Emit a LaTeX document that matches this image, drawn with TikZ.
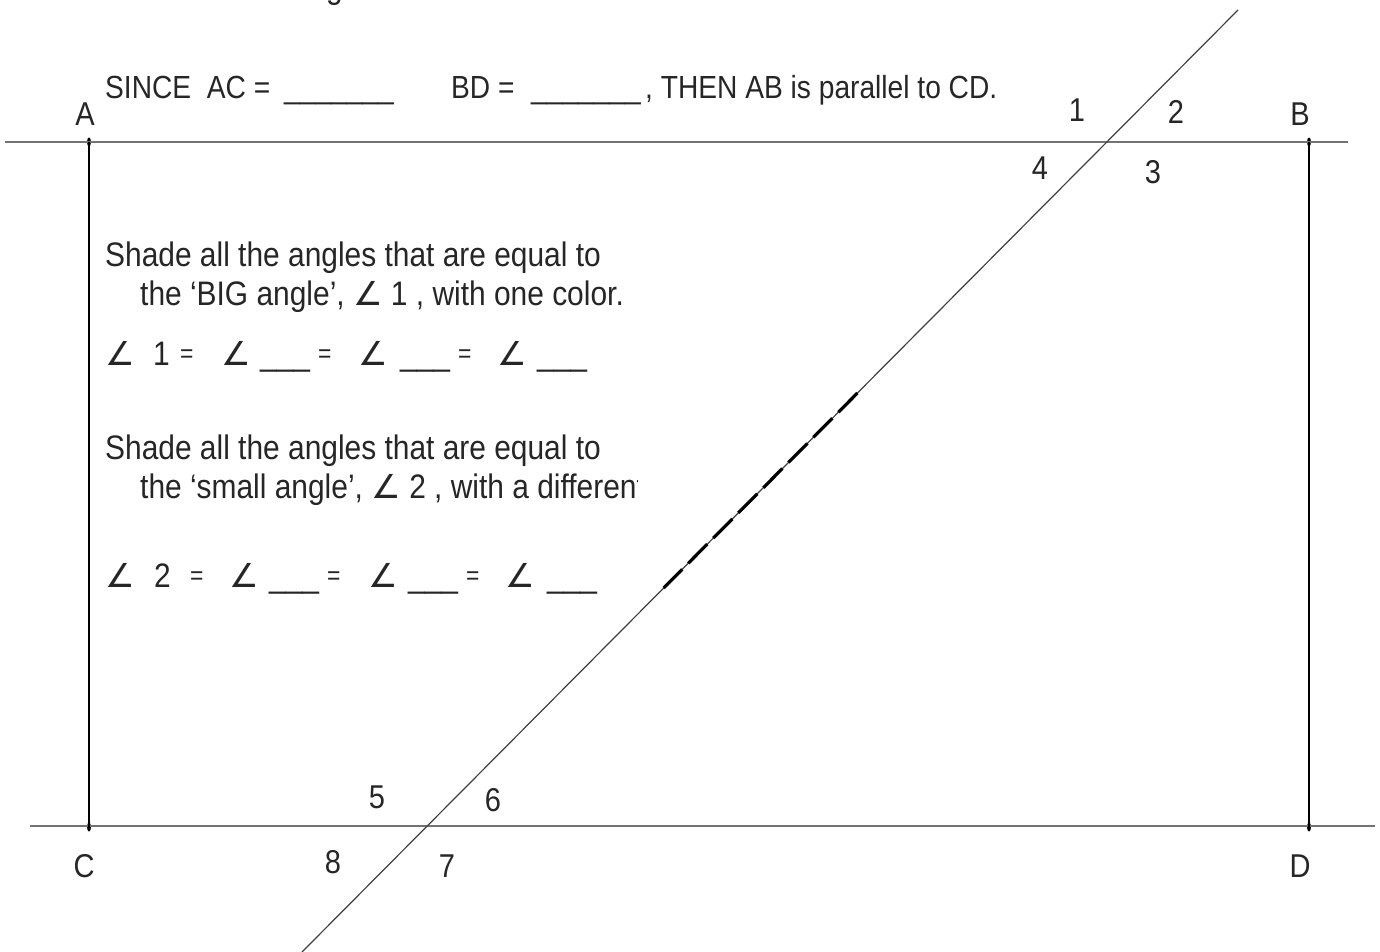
\documentclass[tikz,border=0pt]{standalone}
\usepackage{fontspec}
\setmainfont{Liberation Sans}[FakeStretch=0.88]
\newfontfamily\symfont{DejaVu Sans}
\usetikzlibrary{shapes.geometric, positioning, calc}

\newcommand{\ang}{{\symfont\fontsize{33}{36}\selectfont\char"2220}}
\newcommand{\blank}{\_\_\_\_\_\_\_}

\begin{document}
\begin{tikzpicture}[x=1pt, y=-1pt]
    \tikzstyle{txt} = [anchor=base west, inner sep=0pt,
                       font=\fontsize{34}{40}\selectfont, text=black!85]
    \tikzstyle{hdr} = [anchor=base west, inner sep=0pt,
                       font=\fontsize{32}{40}\selectfont, text=black!85]
    \tikzstyle{lbl} = [inner sep=0pt, font=\fontsize{33}{40}\selectfont, text=black!85]
    \tikzstyle{eq}  = [anchor=base west, inner sep=0pt,
                       font=\fontsize{26}{30}\selectfont, text=black!85]
    \tikzstyle{dot} = [ellipse, fill=black, inner sep=0pt,
                       minimum width=4pt, minimum height=9pt]
    \tikzstyle{parline} = [draw=black!55, line width=1.5pt]
    \tikzstyle{side}    = [draw=black, line width=1.3pt]
    \tikzstyle{trans}   = [draw=black!75, line width=1.2pt]

    \useasboundingbox (0,0) rectangle (1380,952);

    % the two parallel lines and the sides
    \node (dA) [dot] at (89,142)   {};
    \node (dB) [dot] at (1309,142) {};
    \node (dC) [dot] at (89,827)   {};
    \node (dD) [dot] at (1309,827) {};
    \coordinate (ABw) at (5,142);
    \coordinate (ABe) at (1348,142);
    \coordinate (CDw) at (30,826);
    \coordinate (CDe) at (1375,826);
    \draw[parline] (ABw) -- (ABe);
    \draw[parline] (CDw) -- (CDe);
    \draw[side] (dA.center) -- (dC.center);
    \draw[side] (dB.center) -- (dD.center);

    % transversal
    \coordinate (t0) at (302,952);
    \coordinate (t1) at (1238,10);
    \coordinate (s0) at ($(t0)!0.3864!(t1)$);
    \coordinate (s1) at ($(t0)!0.5934!(t1)$);
    \draw[trans] (t0) -- (t1);
    \draw[draw=black, line width=3.2pt, dash pattern=on 27pt off 8.5pt] (s1) -- (s0);

    % point labels
    \node (A) [lbl] at (85,114)   {A};
    \node (B) [lbl] at (1300,114) {B};
    \node (C) [lbl] at (84,866)   {C};
    \node (D) [lbl] at (1300,866) {D};

    % angle numbers
    \node (n1) [lbl] at (1077,110) {1};
    \node (n2) [lbl] at (1176,112) {2};
    \node (n3) [lbl] at (1153,172) {3};
    \node (n4) [lbl] at (1040,168) {4};
    \node (n5) [lbl] at (377,797)  {5};
    \node (n6) [lbl] at (493,800)  {6};
    \node (n7) [lbl] at (447,866)  {7};
    \node (n8) [lbl] at (333,862)  {8};

    % header
    \node (gcut) [txt] at (326,-1) {g};
    \node (since) [hdr] at (105,99) {SINCE\ \ AC =};
    \node (ac)    [hdr] at (284,99) {\blank};
    \node (bd)    [hdr] at (451,99) {BD =};
    \node (bdb)   [hdr] at (531,99) {\blank};
    \node (then)  [hdr] at (645,99) {, THEN AB is parallel to CD.};

    % instructions
    \node (big1) [txt] at (105,266) {Shade all the angles that are equal to};
    \node (big2) [txt] at (140,305) {the ‘BIG angle’, \ang\ 1 , with one color.};
    \node (sml1) [txt] at (105,459) {Shade all the angles that are equal to};
    \begin{scope}
      \clip (100,460) rectangle (637,520);
      \node (sml2) [txt] at (140,498) {the ‘small angle’, \ang\ 2 , with a different color.};
    \end{scope}

    % answer rows
    \foreach \x/\s [count=\i] in {105/\ang, 153/1, 221/\ang, 260/\_\_\_,
        358/\ang, 400/\_\_\_, 497/\ang, 537/\_\_\_}
      \node (ra\i) [txt] at (\x,365) {\s};
    \foreach \x [count=\i] in {180, 318, 458}
      \node (rae\i) [eq] at (\x,362) {=};
    \foreach \x/\s [count=\i] in {105/\ang, 154/2, 229/\ang, 269/\_\_\_,
        368/\ang, 408/\_\_\_, 505/\ang, 547/\_\_\_}
      \node (rb\i) [txt] at (\x,587) {\s};
    \foreach \x [count=\i] in {190, 327, 466}
      \node (rbe\i) [eq] at (\x,584) {=};
\end{tikzpicture}
\end{document}
